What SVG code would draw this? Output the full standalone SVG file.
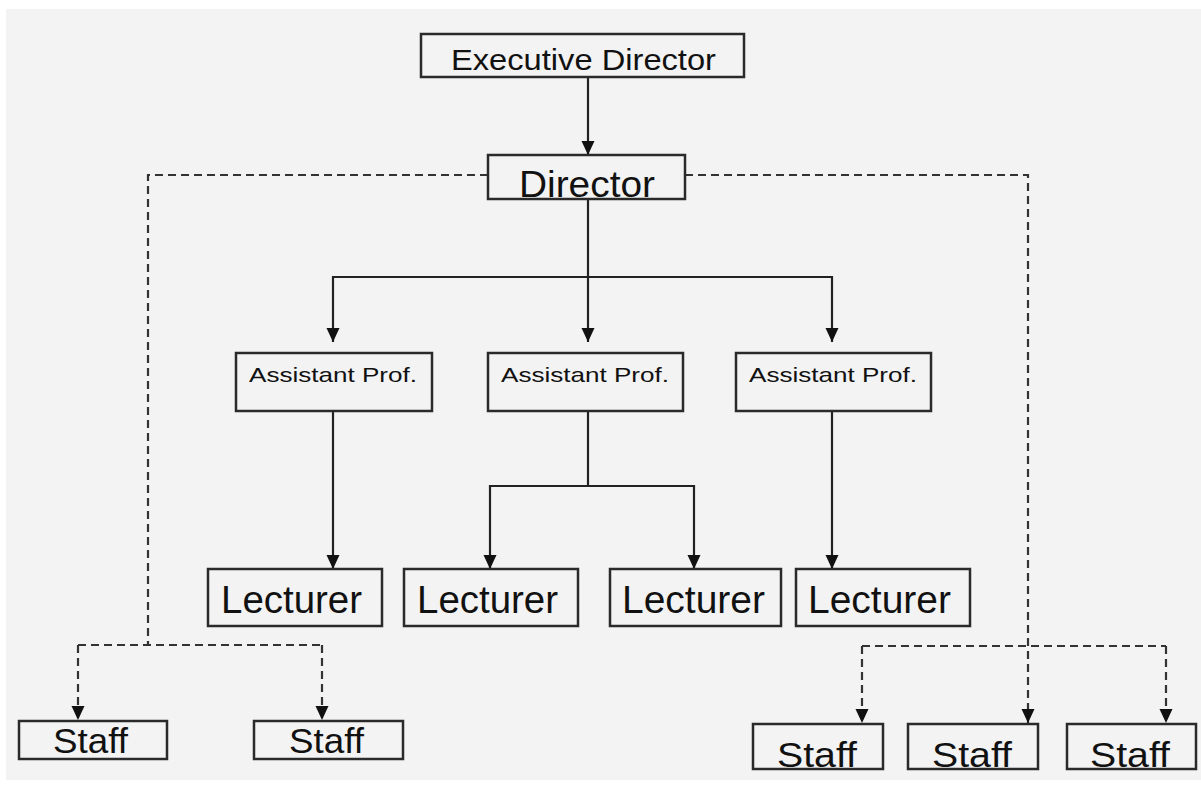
<svg xmlns="http://www.w3.org/2000/svg" width="1201" height="786" viewBox="0 0 1201 786">
<style>
.box{fill:#f3f3f3;stroke:#2a2a2a;stroke-width:2.5}
.t{font-family:"Liberation Sans",Arial,sans-serif;fill:#111}
.solid{fill:none;stroke:#222;stroke-width:2.2}
.dash{fill:none;stroke:#333;stroke-width:2.2;stroke-dasharray:8 5}
</style>
<defs>
<marker id="ad" markerUnits="userSpaceOnUse" markerWidth="16" markerHeight="16" viewBox="0 0 16 16" refX="15" refY="8" orient="auto">
<path d="M1,1.5 L15,8 L1,14.5 Z" fill="#111"/>
</marker>
</defs>
<rect x="0" y="0" width="1201" height="786" fill="#ffffff"/>
<rect x="6" y="9" width="1195" height="771" fill="#f3f3f3"/>

<g id="connectors">
<line class="solid" x1="588" y1="77" x2="588" y2="155" marker-end="url(#ad)"/>
<line class="solid" x1="588" y1="199" x2="588" y2="342" marker-end="url(#ad)"/>
<line class="solid" x1="333" y1="277" x2="832" y2="277"/>
<line class="solid" x1="333" y1="276" x2="333" y2="342" marker-end="url(#ad)"/>
<line class="solid" x1="832" y1="276" x2="832" y2="342" marker-end="url(#ad)"/>
<line class="solid" x1="333" y1="411" x2="333" y2="569" marker-end="url(#ad)"/>
<line class="solid" x1="832" y1="411" x2="832" y2="569" marker-end="url(#ad)"/>
<line class="solid" x1="588" y1="411" x2="588" y2="486"/>
<line class="solid" x1="490" y1="486" x2="694" y2="486"/>
<line class="solid" x1="490" y1="485" x2="490" y2="569" marker-end="url(#ad)"/>
<line class="solid" x1="694" y1="485" x2="694" y2="569" marker-end="url(#ad)"/>
<polyline class="dash" points="488,175 148,175 148,645"/>
<line class="dash" x1="78" y1="645" x2="322" y2="645"/>
<line class="dash" x1="78" y1="645" x2="78" y2="720" marker-end="url(#ad)"/>
<line class="dash" x1="322" y1="645" x2="322" y2="720" marker-end="url(#ad)"/>
<polyline class="dash" points="685,175 1028,175 1028,723" marker-end="url(#ad)"/>
<line class="dash" x1="862" y1="646" x2="1166" y2="646"/>
<line class="dash" x1="862" y1="646" x2="862" y2="723" marker-end="url(#ad)"/>
<line class="dash" x1="1166" y1="646" x2="1166" y2="723" marker-end="url(#ad)"/>
</g>

<g id="exec-director">
<rect class="box" x="421" y="34" width="323" height="43"/>
<text class="t" x="451" y="70" font-size="29" textLength="265" lengthAdjust="spacingAndGlyphs">Executive Director</text>
</g>
<g id="director">
<rect class="box" x="488" y="155" width="197" height="44"/>
<text class="t" x="519" y="197" font-size="36" textLength="136" lengthAdjust="spacingAndGlyphs">Director</text>
</g>

<g id="asst1">
<rect class="box" x="236" y="353" width="196" height="58"/>
<text class="t" x="249" y="382" font-size="21" textLength="168" lengthAdjust="spacingAndGlyphs">Assistant Prof.</text>
</g>
<g id="asst2">
<rect class="box" x="488" y="353" width="195" height="58"/>
<text class="t" x="501" y="382" font-size="21" textLength="168" lengthAdjust="spacingAndGlyphs">Assistant Prof.</text>
</g>
<g id="asst3">
<rect class="box" x="736" y="353" width="195" height="58"/>
<text class="t" x="749" y="382" font-size="21" textLength="168" lengthAdjust="spacingAndGlyphs">Assistant Prof.</text>
</g>

<g id="lect1">
<rect class="box" x="208" y="569" width="174" height="57"/>
<text class="t" x="221" y="613" font-size="38" textLength="141" lengthAdjust="spacingAndGlyphs">Lecturer</text>
</g>
<g id="lect2">
<rect class="box" x="404" y="569" width="174" height="57"/>
<text class="t" x="417" y="613" font-size="38" textLength="141" lengthAdjust="spacingAndGlyphs">Lecturer</text>
</g>
<g id="lect3">
<rect class="box" x="610" y="569" width="171" height="57"/>
<text class="t" x="622" y="613" font-size="38" textLength="143" lengthAdjust="spacingAndGlyphs">Lecturer</text>
</g>
<g id="lect4">
<rect class="box" x="796" y="569" width="174" height="57"/>
<text class="t" x="808" y="613" font-size="38" textLength="143" lengthAdjust="spacingAndGlyphs">Lecturer</text>
</g>

<g id="staff1">
<rect class="box" x="19" y="721" width="148" height="38"/>
<text class="t" x="53" y="753" font-size="35" textLength="75" lengthAdjust="spacingAndGlyphs">Staff</text>
</g>
<g id="staff2">
<rect class="box" x="254" y="721" width="149" height="38"/>
<text class="t" x="289" y="753" font-size="35" textLength="75" lengthAdjust="spacingAndGlyphs">Staff</text>
</g>
<g id="staff3">
<rect class="box" x="753" y="724" width="130" height="45"/>
<text class="t" x="777" y="767" font-size="35" textLength="80" lengthAdjust="spacingAndGlyphs">Staff</text>
</g>
<g id="staff4">
<rect class="box" x="908" y="724" width="130" height="45"/>
<text class="t" x="932" y="767" font-size="35" textLength="80" lengthAdjust="spacingAndGlyphs">Staff</text>
</g>
<g id="staff5">
<rect class="box" x="1067" y="724" width="129" height="45"/>
<text class="t" x="1090" y="767" font-size="35" textLength="80" lengthAdjust="spacingAndGlyphs">Staff</text>
</g>
</svg>
